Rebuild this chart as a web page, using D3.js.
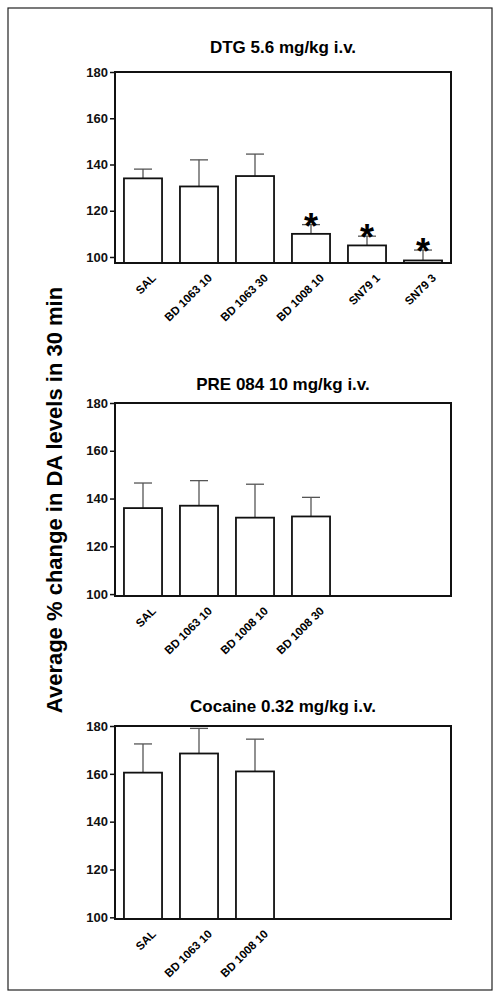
<!DOCTYPE html>
<html>
<head>
<meta charset="utf-8">
<script src="https://cdn.jsdelivr.net/npm/d3@7"></script>
<style>
body { margin: 0; background: #fff; }
text { font-family: Arial, "Liberation Sans", sans-serif; font-weight: bold; }
</style>
</head>
<body>
<svg id="chart" width="501" height="1000"></svg>
<script>
// data
var dtgLabels = ["SAL", "BD 1063 10", "BD 1063 30", "BD 1008 10", "SN79 1", "SN79 3"];
var dtgMeans = [134, 130.5, 135, 110, 105, 98.5];
var dtgErr = [138, 142, 144.5, 114, 109, 103];
var dtgStar = [false, false, false, true, true, true];

var preLabels = ["SAL", "BD 1063 10", "BD 1008 10", "BD 1008 30"];
var preMeans = [136, 137, 132, 132.5];
var preErr = [146.5, 147.5, 146, 140.5];

var cocLabels = ["SAL", "BD 1063 10", "BD 1008 10"];
var cocMeans = [160.5, 168.5, 161];
var cocErr = [172.5, 179, 174.5];

var yTicks = [100, 120, 140, 160, 180];

var svg = d3.select("#chart");

// outer frame
svg.append("rect").attr("x", 8).attr("y", 8).attr("width", 484).attr("height", 982)
    .attr("fill", "none").attr("stroke", "#222").attr("stroke-width", 1.2);

svg.append("text")
    .attr("transform", "translate(62,500) rotate(-90)")
    .attr("text-anchor", "middle")
    .style("font-size", "22px")
    .text("Average % change in DA levels in 30 min");

function panel(title, labels, means, errs, stars, top, bottom, yMin, titleY) {
    var left = 115, right = 451;
    var y = d3.scaleLinear().domain([yMin, 180]).range([bottom, top]);
    var x = d3.scaleBand().domain(d3.range(6)).range([left, right]).paddingInner(0.32).paddingOuter(0.16);
    var g = svg.append("g");

    g.append("text").attr("x", 283).attr("y", titleY).attr("text-anchor", "middle")
        .style("font-size", "17px").text(title);

    // error bars (upper only)
    labels.forEach(function (l, i) {
        var cx = x(i) + x.bandwidth() / 2;
        g.append("line").attr("x1", cx).attr("x2", cx).attr("y1", y(means[i])).attr("y2", y(errs[i]))
            .attr("stroke", "#555").attr("stroke-width", 1.3);
        g.append("line").attr("x1", cx - 9).attr("x2", cx + 9).attr("y1", y(errs[i])).attr("y2", y(errs[i]))
            .attr("stroke", "#555").attr("stroke-width", 1.3);
    });

    g.selectAll("rect.bar").data(means).enter().append("rect")
        .attr("x", function (d, i) { return x(i); })
        .attr("y", function (d) { return y(d); })
        .attr("width", x.bandwidth())
        .attr("height", function (d) { return bottom - y(d); })
        .attr("fill", "#fff").attr("stroke", "#111").attr("stroke-width", 1.8);

    if (stars) {
        stars.forEach(function (s, i) {
            if (!s) return;
            g.append("text").attr("x", x(i) + x.bandwidth() / 2).attr("y", y(errs[i]) + 14)
                .attr("text-anchor", "middle").style("font-size", "36px").text("*");
        });
    }

    // box
    g.append("rect").attr("x", left).attr("y", top).attr("width", right - left).attr("height", bottom - top)
        .attr("fill", "none").attr("stroke", "#111").attr("stroke-width", 2);

    var ax = g.append("g").attr("transform", "translate(" + left + ",0)")
        .call(d3.axisLeft(y).tickValues(yTicks).tickSize(5).tickPadding(2));
    ax.select(".domain").remove();
    ax.selectAll("line").attr("stroke", "#111").attr("stroke-width", 1.5);
    ax.selectAll("text").style("font-size", "13px").attr("fill", "#111");

    labels.forEach(function (l, i) {
        var cx = x(i) + x.bandwidth() / 2 + 8;
        g.append("text").attr("transform", "translate(" + cx + "," + (bottom + 10) + ") rotate(-45)")
            .attr("text-anchor", "end").attr("dy", "0.7em").style("font-size", "11.5px").text(l);
    });
}

panel("DTG 5.6 mg/kg i.v.", dtgLabels, dtgMeans, dtgErr, dtgStar, 72, 263, 97.4, 53);
panel("PRE 084 10 mg/kg i.v.", preLabels, preMeans, preErr, null, 403, 596, 99.2, 390);
panel("Cocaine 0.32 mg/kg i.v.", cocLabels, cocMeans, cocErr, null, 726, 919, 99.3, 712);
</script>
</body>
</html>
